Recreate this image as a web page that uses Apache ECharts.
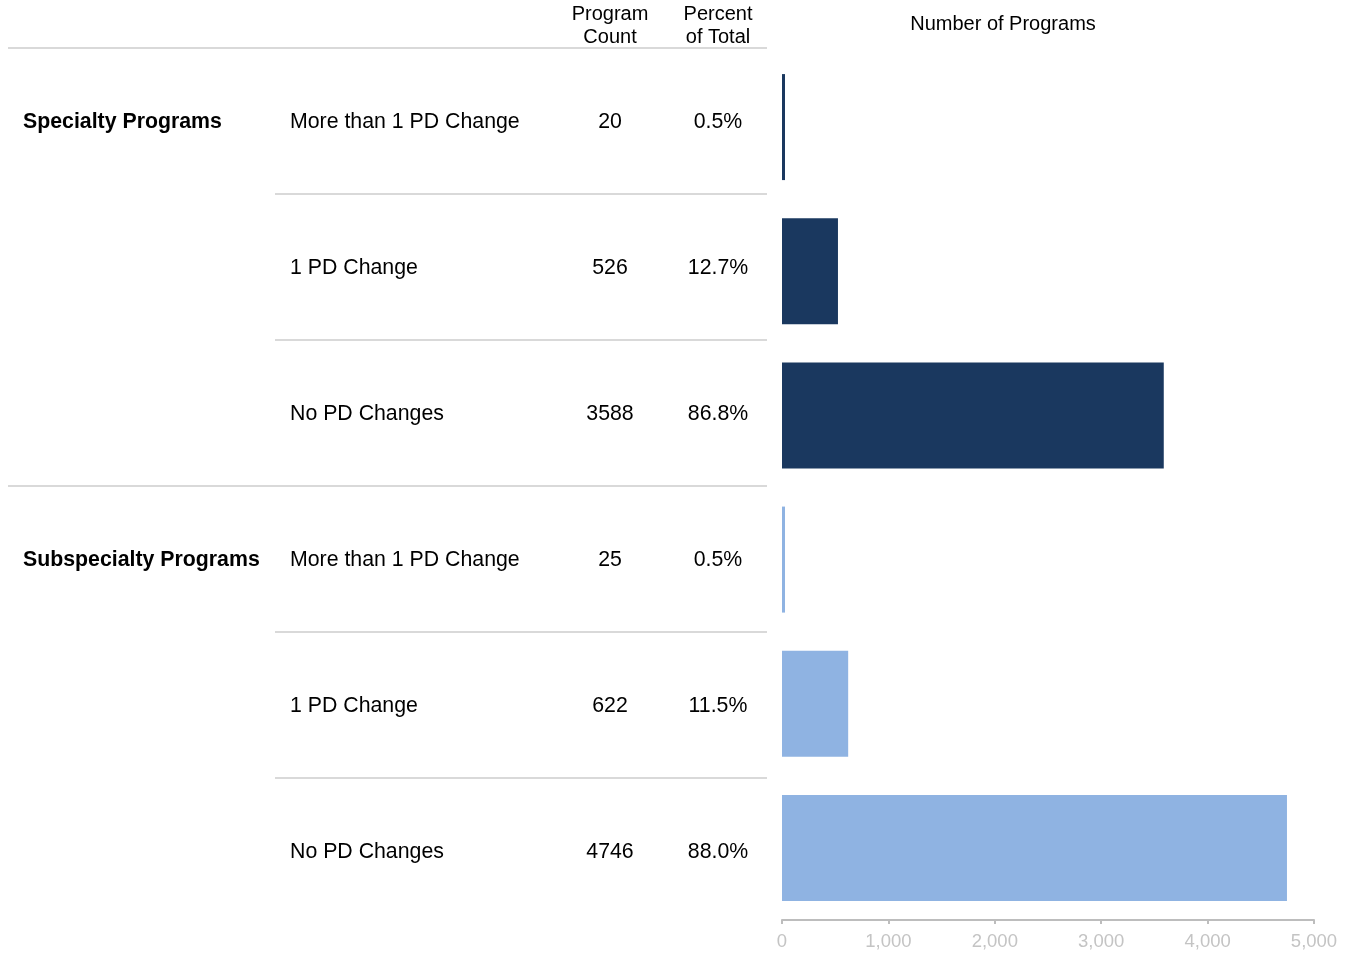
<!DOCTYPE html>
<html>
<head>
<meta charset="UTF-8">
<title>Program Director Changes</title>
<script src="https://cdn.jsdelivr.net/npm/echarts@6/dist/echarts.min.js"></script>
<style>
  html, body { margin: 0; padding: 0; background: #fff; }
  #main { width: 1351px; height: 955px; }
</style>
</head>
<body>
<div id="main"></div>
<script>
// data
var groups = ['Specialty Programs', 'Subspecialty Programs'];
var rowGroup = [0, 0, 0, 1, 1, 1];
var rowLabels = ['More than 1 PD Change', '1 PD Change', 'No PD Changes',
                 'More than 1 PD Change', '1 PD Change', 'No PD Changes'];
var counts = [20, 526, 3588, 25, 622, 4746];
var percents = ['0.5%', '12.7%', '86.8%', '0.5%', '11.5%', '88.0%'];
var xTicks = [0, 1000, 2000, 3000, 4000, 5000];
var groupColors = ['#1a385f', '#8fb3e2'];

var font = 'Arial, "Liberation Sans", sans-serif';
var chart = echarts.init(document.getElementById('main'));

var cats = rowLabels.map(function (l, i) { return i + ''; });

var option = {
    animation: false,
    grid: [
        { left: 782, top: 55, width: 532, height: 865 },   // bars
        { left: 8, top: 48, width: 759, height: 876 }      // table rows
    ],
    xAxis: [{
        type: 'value',
        gridIndex: 0,
        min: xTicks[0],
        max: xTicks[xTicks.length - 1],
        interval: 1000,
        axisLine: { show: true, lineStyle: { color: '#bdbdbd', width: 2 } },
        axisTick: { show: true, length: 4, lineStyle: { color: '#bdbdbd', width: 2 } },
        splitLine: { show: false },
        axisLabel: {
            color: '#c4c4c4', fontSize: 18.5, fontFamily: font, margin: 12,
            formatter: function (v) { return v.toLocaleString('en-US'); }
        }
    }, {
        type: 'value', gridIndex: 1, show: false
    }],
    yAxis: [{
        type: 'category',
        gridIndex: 0,
        data: cats,
        inverse: true,
        axisLine: { show: false },
        axisTick: { show: false },
        axisLabel: { show: false }
    }, {
        type: 'category',
        gridIndex: 1,
        data: cats,
        inverse: true,
        show: false
    }],
    series: [{
        type: 'bar',
        barWidth: 106,
        barMinHeight: 3,
        data: counts.map(function (v, i) {
            return { value: v, itemStyle: { color: groupColors[rowGroup[i]] } };
        })
    }]
};
chart.setOption(option);

// table part, placed from the table grid's category scale
var g = [];
var lineColor = '#d9d9d9';
var txt = function (x, y, s, opt) {
    return {
        type: 'text', x: x, y: y,
        style: Object.assign({
            text: s, fill: '#000', fontSize: 21.3, fontFamily: font,
            align: 'left', verticalAlign: 'middle'
        }, opt || {})
    };
};

// headers
g.push(txt(610, 14, 'Program', { fontSize: 20, align: 'center' }));
g.push(txt(610, 37, 'Count', { fontSize: 20, align: 'center' }));
g.push(txt(718, 14, 'Percent', { fontSize: 20, align: 'center' }));
g.push(txt(718, 37, 'of Total', { fontSize: 20, align: 'center' }));
g.push(txt(1003, 24, 'Number of Programs', { fontSize: 20, align: 'center' }));

var band = 876 / cats.length;
cats.forEach(function (c, i) {
    var y = chart.convertToPixel({ yAxisIndex: 1 }, c);
    var top = y - band / 2;
    var ty = y + 1.5;
    var firstInGroup = i === 0 || rowGroup[i] !== rowGroup[i - 1];
    g.push({
        type: 'line',
        shape: { x1: firstInGroup ? 8 : 275, y1: top, x2: 767, y2: top },
        style: { stroke: lineColor, lineWidth: 2 }
    });
    if (firstInGroup) {
        g.push(txt(23, ty, groups[rowGroup[i]], { fontWeight: 'bold' }));
    }
    g.push(txt(290, ty, rowLabels[i]));
    g.push(txt(610, ty, counts[i] + '', { align: 'center' }));
    g.push(txt(718, ty, percents[i], { align: 'center' }));
});

chart.setOption({ graphic: g });
</script>
</body>
</html>
